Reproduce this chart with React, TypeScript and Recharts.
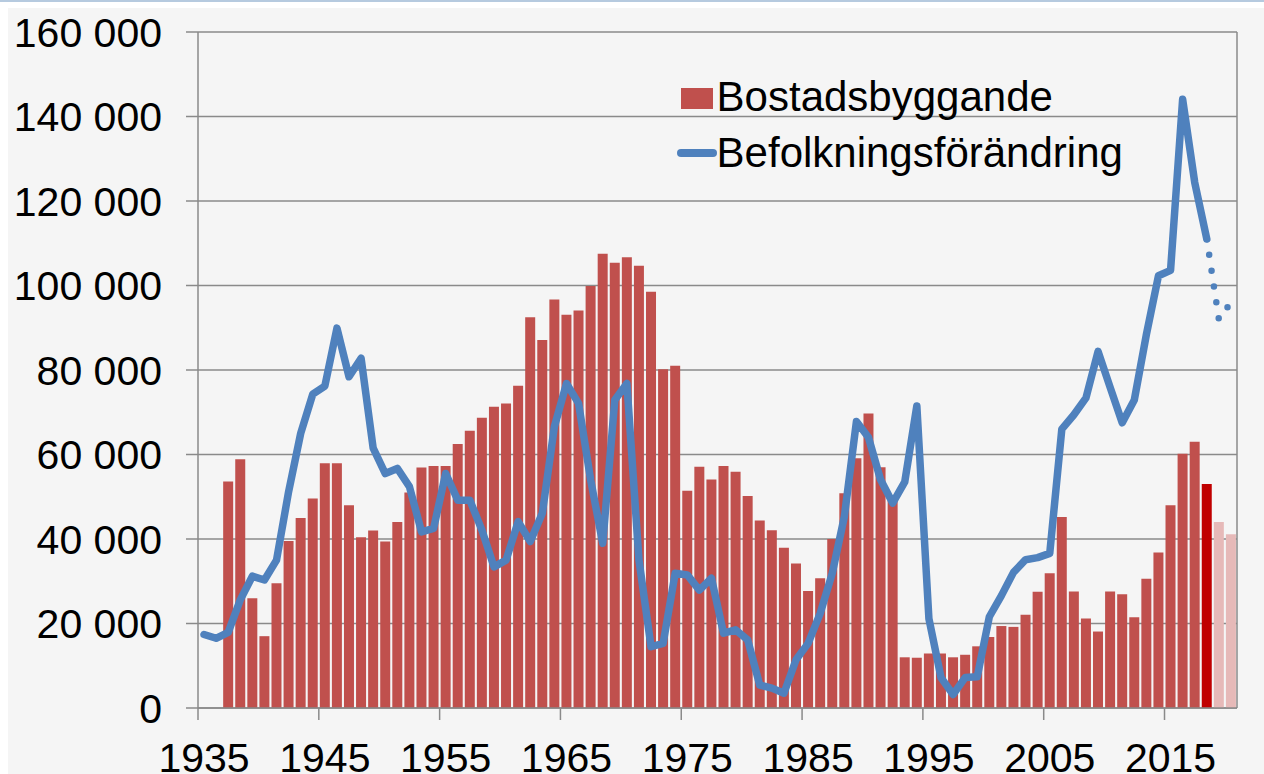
import React from 'react'
import { ComposedChart, Bar, Line, XAxis, YAxis, CartesianGrid, Legend, Cell } from 'recharts'

// categories: one per year, 1935-2020
const years = Array.from({ length: 86 }, (_, i) => 1935 + i)

// Bostadsbyggande (completed dwellings), 1935-2020; no bars for 1935-36
const housing = [
  null, null, 53600, 58900, 26000, 17000, 29500, 39500, 45000, 49600,
  57900, 57900, 48000, 40400, 42000, 39400, 44000, 51000, 56900, 57300,
  57300, 62500, 65600, 68700, 71300, 72100, 76300, 92500, 87100, 96700,
  93100, 94100, 99900, 107500, 105400, 106700, 104700, 98500, 80200, 81000,
  51400, 57100, 54100, 57300, 55900, 50200, 44400, 42100, 37900, 34200,
  27700, 30700, 40000, 50800, 59100, 69700, 57000, 49000, 12000, 11900,
  12900, 12900, 12000, 12600, 14600, 16800, 19400, 19200, 22100, 27500,
  31900, 45200, 27600, 21200, 18100, 27600, 26900, 21500, 30600, 36800,
  48000, 60200, 63000, 53000, 44000, 41100,
]

// Befolkningsförändring, 1935-2018 (outcome)
const population = [
  17400, 16500, 17900, 25600, 31200, 30300, 35000, 51200, 65000, 74300,
  76200, 89900, 78400, 82800, 61500, 55500, 56700, 52400, 41700, 42500,
  55500, 49200, 49200, 42100, 33400, 35000, 44100, 39400, 46100, 66600,
  76800, 72100, 54000, 39000, 72900, 76800, 35000, 14500, 15300, 31900,
  31500, 27900, 30700, 17700, 18500, 16100, 5400, 4700, 3500, 11400,
  15300, 22400, 31900, 45300, 67800, 64000, 54000, 48500, 53500, 71500,
  21100, 7200, 3200, 7200, 7400, 21600, 26600, 32100, 35100, 35600,
  36600, 66000, 69400, 73400, 84400, 75900, 67500, 72900, 88400, 102300,
  103600, 144100, 124400, 111000,
]

// forecast part of the population line, 2018-2020 (dotted)
const forecastYears = [2018, 2019, 2020]
const forecast = [111000, 92000, 96000]

const xTicks = [1935, 1945, 1955, 1965, 1975, 1985, 1995, 2005, 2015]
const yTicks = [0, 20000, 40000, 60000, 80000, 100000, 120000, 140000, 160000]

const data = years.map((year, i) => {
  const f = forecastYears.indexOf(year)
  return {
    year,
    housing: housing[i] ?? null,
    population: population[i] ?? null,
    forecast: f >= 0 ? forecast[f] : null,
  }
})

const W = 1264
const H = 774
const MARGIN = { top: 32, right: 27, bottom: 0, left: 0 }
const Y_WIDTH = 198
const X_HEIGHT = 66
const BAND = (W - Y_WIDTH - MARGIN.right) / years.length

const FONT = '"Liberation Sans", Arial, sans-serif'
const AXIS = '#8a8a8a'
const BAR = '#c0504d'
const LINE = '#4f81bd'

function barColor(year: number) {
  if (year === 2018) return '#c00000'
  if (year > 2018) return '#e6b9b8'
  return BAR
}

function fmt(v: number) {
  return String(v).replace(/\B(?=(\d{3})+(?!\d))/g, ' ')
}

// tick marks sit between categories, labels on the category centre
function XTick(props: any) {
  const { x, y, payload } = props
  const edge = x - BAND / 2
  return (
    <g>
      <line x1={edge} x2={edge} y1={y} y2={y + 12} stroke={AXIS} strokeWidth={1.5} />
      <text x={x} y={y + 64} textAnchor="middle" fontSize={41} fontFamily={FONT} fill="#000">
        {payload.value}
      </text>
    </g>
  )
}

function YTick(props: any) {
  const { x, y, payload } = props
  return (
    <text x={x} y={y} dy="0.358em" textAnchor="end" fontSize={41} fontFamily={FONT} fill="#000">
      {fmt(payload.value)}
    </text>
  )
}

function ChartLegend() {
  return (
    <svg width={520} height={120} style={{ display: 'block', overflow: 'visible' }}>
      <rect x={11} y={18} width={32} height={21} fill={BAR} />
      <text x={46.6} y={40.5} fontSize={42} fontFamily={FONT} fill="#000">Bostadsbyggande</text>
      <line x1={11} y1={83} x2={43} y2={83} stroke={LINE} strokeWidth={8} strokeLinecap="round" />
      <text x={46.6} y={96.7} fontSize={42} fontFamily={FONT} fill="#000">Befolkningsförändring</text>
    </svg>
  )
}

export default function App() {
  return (
    <div style={{ position: 'absolute', left: 0, top: 0, width: W, height: H, background: '#fff', overflow: 'hidden' }}>
      <div style={{ position: 'absolute', left: 0, top: 0, width: W, height: 2, background: '#b6cadf' }} />
      <div style={{ position: 'absolute', left: 8, top: 8, right: 0, bottom: 0, background: '#f5f5f5' }} />
      <div style={{ position: 'absolute', left: 0, top: 0 }}>
        <ComposedChart width={W} height={H} data={data} margin={MARGIN} barCategoryGap={1}>
          <CartesianGrid
            stroke={AXIS}
            strokeWidth={1.5}
            verticalCoordinatesGenerator={(p: any) => [p.offset.left + p.offset.width]}
          />
          <XAxis
            dataKey="year"
            type="category"
            ticks={xTicks}
            interval={0}
            height={X_HEIGHT}
            tickSize={0}
            tickMargin={0}
            tickLine={false}
            axisLine={{ stroke: AXIS, strokeWidth: 1.5 }}
            tick={<XTick />}
          />
          <YAxis
            domain={[0, 160000]}
            ticks={yTicks}
            interval={0}
            width={Y_WIDTH}
            tickSize={12}
            tickMargin={24}
            tickLine={{ stroke: AXIS, strokeWidth: 1.5 }}
            axisLine={{ stroke: AXIS, strokeWidth: 1.5 }}
            tick={<YTick />}
          />
          <Legend
            layout="vertical"
            align="center"
            verticalAlign="middle"
            content={<ChartLegend />}
            wrapperStyle={{ left: 670, top: 70, width: 520, height: 120 }}
          />
          <Bar dataKey="housing" name="Bostadsbyggande" isAnimationActive={false}>
            {data.map((d) => (
              <Cell key={d.year} fill={barColor(d.year)} />
            ))}
          </Bar>
          <Line
            dataKey="population"
            name="Befolkningsförändring"
            type="linear"
            stroke={LINE}
            strokeWidth={7.5}
            strokeLinejoin="round"
            strokeLinecap="round"
            dot={false}
            activeDot={false}
            isAnimationActive={false}
          />
          <Line
            dataKey="forecast"
            legendType="none"
            type="linear"
            stroke={LINE}
            strokeWidth={6.5}
            strokeDasharray="0 16"
            strokeLinecap="round"
            dot={false}
            activeDot={false}
            isAnimationActive={false}
          />
        </ComposedChart>
      </div>
    </div>
  )
}
